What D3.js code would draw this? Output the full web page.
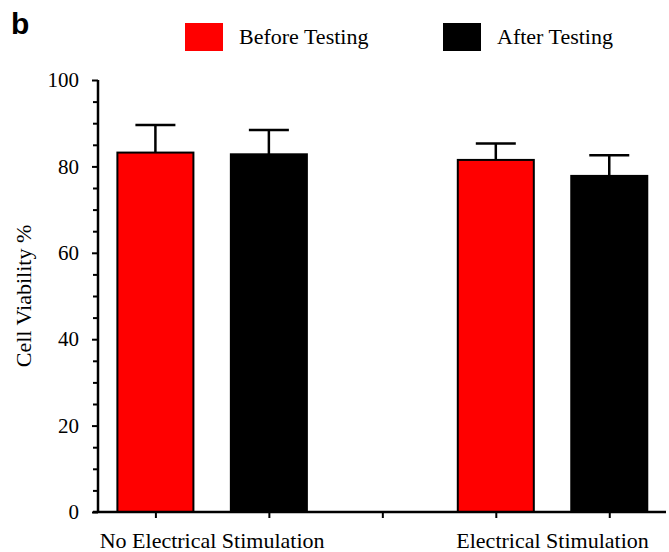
<!DOCTYPE html>
<html>
<head>
<meta charset="utf-8">
<script src="https://cdn.jsdelivr.net/npm/d3@7"></script>
<style>
  html, body { margin: 0; padding: 0; background: #fff; }
  svg { display: block; }
</style>
</head>
<body>
<svg id="chart" width="669" height="552"></svg>
<script>
const groups = ["No Electrical Stimulation", "Electrical Stimulation"];
const seriesNames = ["Before Testing", "After Testing"];
const seriesColors = ["#ff0000", "#000000"];
const beforeValues = [83.2, 81.5];
const beforeErrors = [6.4, 3.8];
const afterValues = [82.8, 77.8];
const afterErrors = [5.6, 4.8];
const yTicks = [0, 20, 40, 60, 80, 100];
const yMinorTicks = [5, 10, 15, 25, 30, 35, 45, 50, 55, 65, 70, 75, 85, 90, 95];

// slot positions: group g, series s -> slot g*3 + s
const bars = [];
groups.forEach((g, gi) => {
  bars.push({slot: gi * 3 + 0, value: beforeValues[gi], err: beforeErrors[gi], s: 0});
  bars.push({slot: gi * 3 + 1, value: afterValues[gi], err: afterErrors[gi], s: 1});
});

const svg = d3.select("#chart");
const serif = "'Liberation Serif', 'Times New Roman', serif";

const x = d3.scaleLinear().domain([-0.55, 4.5]).range([93, 666]);
const y = d3.scaleLinear().domain([0, 100]).range([512, 80]);
const barW = x(0.67) - x(0);

// bars
svg.append("g").selectAll("rect").data(bars).join("rect")
  .attr("x", d => x(d.slot) - barW / 2)
  .attr("y", d => y(d.value))
  .attr("width", barW)
  .attr("height", d => y(0) - y(d.value))
  .attr("fill", d => seriesColors[d.s])
  .attr("stroke", "#000")
  .attr("stroke-width", 2);

// error bars (upper only)
const capW = 40;
const eb = svg.append("g").attr("stroke", "#000").attr("stroke-width", 2.5);
eb.selectAll("line.v").data(bars).join("line").attr("class", "v")
  .attr("x1", d => x(d.slot)).attr("x2", d => x(d.slot))
  .attr("y1", d => y(d.value)).attr("y2", d => y(d.value + d.err));
eb.selectAll("line.c").data(bars).join("line").attr("class", "c")
  .attr("x1", d => x(d.slot) - capW / 2).attr("x2", d => x(d.slot) + capW / 2)
  .attr("y1", d => y(d.value + d.err)).attr("y2", d => y(d.value + d.err));

// y axis
const yAxis = d3.axisLeft(y).tickValues(yTicks).tickSize(6).tickPadding(13).tickFormat(d3.format("d"));
const yg = svg.append("g").attr("transform", "translate(98,0)").call(yAxis);
yg.select(".domain").attr("stroke-width", 2.5).attr("d", `M0,${y(100)}V${y(0) + 1}`);
yg.selectAll(".tick line").attr("stroke-width", 2);
yg.selectAll(".tick text").attr("font-family", serif).attr("font-size", 21).attr("fill", "#000");
const yMinor = d3.axisLeft(y).tickValues(yMinorTicks).tickSize(5).tickFormat("");
const ym = svg.append("g").attr("transform", "translate(98,0)").call(yMinor);
ym.select(".domain").remove();
ym.selectAll(".tick line").attr("stroke-width", 2);

// x axis
const xAxis = d3.axisBottom(x).tickValues([0, 1, 2, 3, 4]).tickSize(6).tickFormat("");
const xg = svg.append("g").attr("transform", `translate(0,${y(0)})`).call(xAxis);
xg.select(".domain").attr("stroke-width", 2.5).attr("d", `M${x(-0.55)},0H${x(4.5)}`);
xg.selectAll(".tick line").attr("stroke-width", 2);

// category labels
svg.append("g").selectAll("text").data(groups).join("text")
  .attr("x", (d, i) => x(i * 3 + 0.5))
  .attr("y", 548)
  .attr("text-anchor", "middle")
  .attr("font-family", serif)
  .attr("font-size", 22)
  .text(d => d);

// y axis title
svg.append("text")
  .attr("transform", "translate(31,296) rotate(-90)")
  .attr("text-anchor", "middle")
  .attr("font-family", serif)
  .attr("font-size", 22)
  .text("Cell Viability %");

// legend
const legendX = [185, 443];
const lg = svg.append("g").selectAll("g").data(seriesNames).join("g")
  .attr("transform", (d, i) => `translate(${legendX[i]},23)`);
lg.append("rect").attr("width", 38).attr("height", 28)
  .attr("fill", (d, i) => seriesColors[i]);
lg.append("text").attr("x", 54).attr("y", 21)
  .attr("font-family", serif).attr("font-size", 22)
  .text(d => d);

// panel letter
svg.append("text").attr("x", 11).attr("y", 34)
  .attr("font-family", "'Liberation Sans', Arial, sans-serif")
  .attr("font-weight", "bold").attr("font-size", 30)
  .text("b");
</script>
</body>
</html>
